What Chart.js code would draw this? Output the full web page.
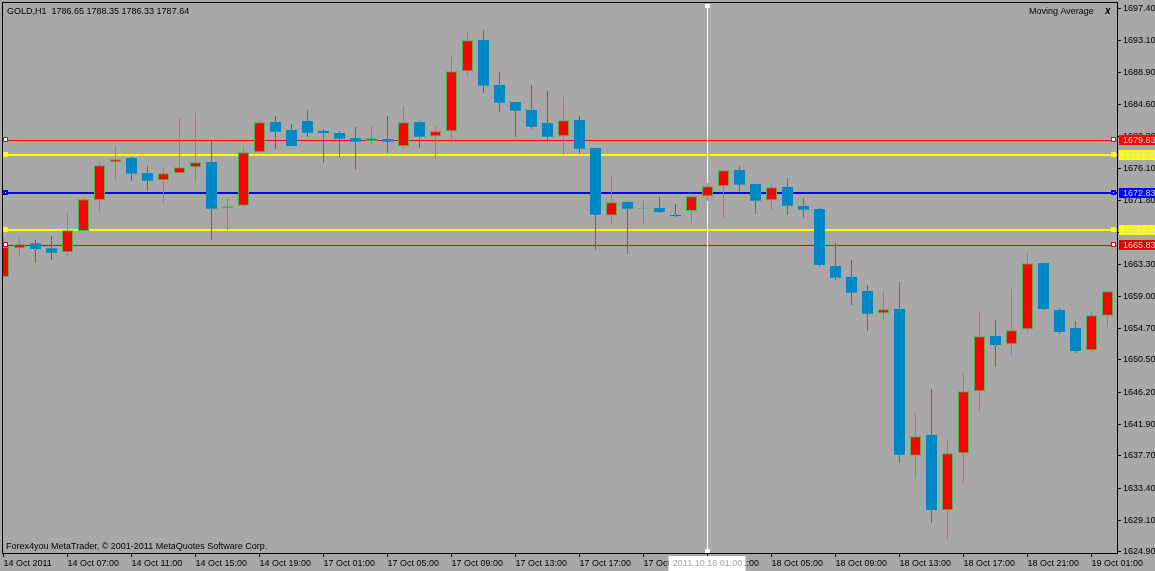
<!DOCTYPE html>
<html><head><meta charset="utf-8">
<script src="https://cdn.jsdelivr.net/npm/chart.js@4/dist/chart.umd.min.js"></script>
<style>html,body{margin:0;padding:0;background:#a8a8a8;overflow:hidden}#wrap{width:1155px;height:571px;position:relative}canvas{display:block}</style>
</head><body><div id="wrap"><canvas id="c" width="1155" height="571"></canvas></div>
<script>
const symbolTitle = 'GOLD,H1  1786.65 1788.35 1786.33 1787.64';
const indicatorName = 'Moving Average';
const copyright = 'Forex4you MetaTrader, \u00a9 2001-2011 MetaQuotes Software Corp.';

const tickLabels = ['14 Oct 2011','14 Oct 07:00','14 Oct 11:00','14 Oct 15:00','14 Oct 19:00','17 Oct 01:00','17 Oct 05:00','17 Oct 09:00','17 Oct 13:00','17 Oct 17:00','17 Oct 21:00','18 Oct 01:00','18 Oct 05:00','18 Oct 09:00','18 Oct 13:00','18 Oct 17:00','18 Oct 21:00','19 Oct 01:00'];
const barsPerTick = 4;

const opens = [1661.59,1665.42,1666.08,1665.42,1664.88,1667.73,1671.86,1676.90,1677.47,1675.47,
1674.49,1675.43,1676.23,1676.94,1670.76,1671.10,1678.23,1682.28,1681.21,1682.41,
1681.08,1680.81,1680.14,1679.74,1680.01,1679.03,1682.28,1680.37,1681.04,1689.05,
1693.23,1687.22,1684.95,1683.88,1682.15,1680.37,1682.55,1678.81,1669.80,1671.60,
1670.70,1670.80,1669.86,1670.40,1672.36,1673.69,1675.87,1674.00,1671.83,1673.60,
1671.06,1670.66,1663.05,1661.59,1659.71,1656.74,1657.31,1637.72,1640.49,1630.44,
1638.05,1646.32,1653.71,1652.60,1654.60,1663.45,1657.18,1654.77,1651.80,1656.42];
const closes = [1665.59,1665.95,1665.32,1664.83,1667.82,1671.96,1676.50,1677.30,1675.38,1674.44,
1675.43,1676.23,1676.90,1670.70,1671.02,1678.23,1682.24,1680.98,1679.07,1680.85,
1680.81,1680.05,1679.65,1680.10,1679.65,1682.24,1680.32,1681.04,1689.05,1693.19,
1687.13,1684.86,1683.79,1681.65,1680.32,1682.51,1678.71,1669.90,1671.56,1670.70,
1670.70,1670.26,1669.73,1672.36,1673.69,1675.83,1673.91,1671.77,1673.56,1671.10,
1670.57,1663.19,1661.49,1659.49,1656.68,1657.27,1637.86,1640.31,1630.48,1638.05,
1646.32,1653.67,1652.51,1654.47,1663.41,1657.31,1654.24,1651.70,1656.47,1659.67];
const highs = [1666.79,1666.97,1666.52,1667.06,1670.26,1672.13,1676.94,1679.07,1677.65,1676.44,
1676.14,1682.81,1683.48,1679.88,1672.13,1678.98,1682.68,1683.08,1682.01,1683.88,
1681.34,1681.08,1681.61,1681.74,1683.08,1684.41,1682.41,1681.74,1691.22,1694.43,
1694.56,1688.95,1684.95,1687.22,1686.42,1685.62,1683.08,1678.81,1675.20,1671.60,
1671.73,1672.27,1671.33,1672.36,1674.09,1675.83,1676.40,1674.00,1674.13,1674.80,
1672.13,1670.80,1666.12,1663.85,1660.52,1659.71,1660.92,1643.43,1646.63,1639.82,
1648.77,1656.91,1655.84,1659.98,1664.92,1663.45,1657.44,1655.71,1657.05,1659.67];
const lows = [1661.45,1664.30,1663.49,1663.85,1664.30,1667.66,1670.17,1674.44,1674.44,1673.11,
1671.37,1675.43,1674.31,1666.52,1667.86,1670.86,1678.14,1678.67,1679.07,1680.32,
1676.84,1677.51,1675.91,1679.30,1678.18,1678.71,1678.85,1677.30,1679.51,1688.33,
1686.19,1683.61,1680.32,1681.38,1679.65,1677.91,1678.05,1665.19,1668.66,1664.66,
1668.53,1670.13,1669.60,1668.84,1671.77,1669.46,1673.03,1670.00,1670.53,1669.86,
1669.46,1662.96,1661.18,1657.85,1654.41,1655.75,1636.79,1634.79,1628.78,1626.47,
1634.08,1643.56,1649.61,1651.08,1654.15,1657.18,1653.97,1651.44,1651.48,1654.95];

const priceTicks = [1697.40,1693.10,1688.90,1684.60,1680.30,1676.10,1671.80,1667.50,1663.30,1659.00,1654.70,1650.50,1646.20,1641.90,1637.70,1633.40,1629.10,1624.90];
const levelValues = [1679.83,1677.83,1672.83,1667.83,1665.83];
const crosshairIndex = 44;
const crosshairLabel = '2011.10.18 01:00';

// styles
const BG = '#a8a8a8', RED = '#ff0000', BLUE = '#0088c4', GREEN = '#4cb24c';
const levelColors = ['#ff0000','#ffff00','#0000ff','#ffff00','#e00000'];
const levelWidths = [1,2,2,2,1];
const FONT = '9px "Liberation Sans", Arial, sans-serif';

const idx = opens.map((_, i) => i);
const isUp = opens.map((o, i) => closes[i] >= o);

const mt4 = {
  id: 'mt4',
  beforeDraw(chart) {
    const c = chart.ctx; c.save(); c.fillStyle = BG; c.fillRect(0, 0, chart.width, chart.height); c.restore();
  },
  beforeDatasetsDraw(chart) {
    const { ctx, chartArea: a, scales: { x, y } } = chart;
    ctx.save();
    levelValues.forEach((v, k) => {
      const py = y.getPixelForValue(v);
      const w = levelWidths[k];
      const top = w % 2 ? Math.floor(py) : Math.round(py) - w / 2;
      ctx.fillStyle = levelColors[k];
      ctx.fillRect(a.left + 1, top, a.right - a.left - 1, w);
    });
    const cx = Math.floor(x.getPixelForValue(crosshairIndex));
    ctx.fillStyle = '#ffffff';
    ctx.fillRect(cx, a.top + 2, 1, a.bottom - a.top - 2);
    ctx.fillRect(cx - 2, a.top + 2, 5, 4);
    ctx.fillRect(cx - 2, a.bottom - 4, 5, 4);
    ctx.restore();
  },
  afterDatasetsDraw(chart) {
    const { ctx, chartArea: a, scales: { y } } = chart;
    ctx.save();
    levelValues.forEach((v, k) => {
      const py = Math.round(y.getPixelForValue(v));
      const bw = levelWidths[k];
      [a.left + 1, a.right - 6].forEach(mx => {
        ctx.fillStyle = levelColors[k];
        ctx.fillRect(mx, py - 3, 5, 5);
        ctx.fillStyle = '#ffffff';
        ctx.fillRect(mx + bw, py - 3 + bw, 5 - 2 * bw, 5 - 2 * bw);
      });
    });
    ctx.restore();
  },
  afterDraw(chart) {
    const { ctx, chartArea: a, scales: { x, y } } = chart;
    ctx.save();
    ctx.fillStyle = '#000';
    ctx.fillRect(a.left, a.top, a.right - a.left, 1);
    ctx.fillRect(a.left, a.top, 1, a.bottom - a.top);
    ctx.font = FONT;
    ctx.textBaseline = 'middle';
    levelValues.forEach((v, k) => {
      const py = Math.round(y.getPixelForValue(v));
      ctx.fillStyle = levelColors[k];
      ctx.fillRect(a.right + 2, py - 5, chart.width - a.right - 2, 10);
      ctx.fillStyle = '#d4d4d4';
      ctx.textAlign = 'left';
      ctx.fillText(v.toFixed(2), a.right + 6, py + 0.5);
    });
    const cx = Math.floor(x.getPixelForValue(crosshairIndex)) + 0.5;
    ctx.fillStyle = '#ffffff';
    ctx.fillRect(cx - 39, a.bottom + 3, 77, 15);
    ctx.fillStyle = BG;
    ctx.textAlign = 'center';
    ctx.fillText(crosshairLabel, cx, a.bottom + 10.5);
    ctx.fillStyle = '#000';
    ctx.textBaseline = 'alphabetic';
    ctx.textAlign = 'left';
    ctx.fillText(symbolTitle, a.left + 5, a.top + 12);
    ctx.fillText(copyright, a.left + 4, a.bottom - 4);
    ctx.fillText(indicatorName, 1029, a.top + 12);
    ctx.font = 'bold italic 10px "Liberation Sans", Arial, sans-serif';
    ctx.fillText('x', 1105, a.top + 12);
    ctx.restore();
  }
};

new Chart(document.getElementById('c'), {
  type: 'bar',
  data: {
    datasets: [
      {
        label: 'body',
        data: idx.map(i => ({ x: i, y: [opens[i], closes[i]] })),
        backgroundColor: isUp.map(u => u ? RED : BLUE),
        borderColor: isUp.map(u => u ? GREEN : BLUE),
        borderWidth: isUp.map(u => u ? 1 : 0),
        borderSkipped: false,
        inflateAmount: 0,
        barThickness: 11, maxBarThickness: 11,
        minBarLength: 1,
        grouped: false,
        order: 0
      },
      {
        label: 'wick',
        data: idx.map(i => ({ x: i, y: [lows[i], highs[i]] })),
        backgroundColor: isUp.map(u => u ? GREEN : BLUE),
        borderWidth: 0,
        inflateAmount: 0,
        barThickness: 1, maxBarThickness: 1,
        grouped: false,
        order: 1
      }
    ]
  },
  options: {
    responsive: false,
    animation: false,
    devicePixelRatio: 1,
    layout: { padding: { left: 2, top: 2, right: 0, bottom: 0 } },
    plugins: { legend: { display: false }, tooltip: { enabled: false } },
    scales: {
      x: {
        type: 'linear',
        min: -0.09375, max: 69.59375,
        offset: false,
        grid: { display: true, drawOnChartArea: false, drawTicks: true, tickLength: 4, color: '#000', offset: false },
        border: { display: true, color: '#000' },
        ticks: {
          autoSkip: false, maxRotation: 0, minRotation: 0, align: 'start', padding: 1,
          color: '#000', font: { family: '"Liberation Sans", Arial, sans-serif', size: 9 },
          callback: (v, i) => tickLabels[i]
        },
        afterBuildTicks: s => { s.ticks = tickLabels.map((_, k) => ({ value: k * barsPerTick })); },
        afterFit: s => { s.height = 18; s.paddingLeft = 0; s.paddingRight = 0; }
      },
      y: {
        position: 'right',
        min: 1624.73, max: 1698.30,
        grid: { display: true, drawOnChartArea: false, drawTicks: true, tickLength: 4, color: '#000' },
        border: { display: true, color: '#000' },
        ticks: {
          autoSkip: false, padding: 2, color: '#000',
          font: { family: '"Liberation Sans", Arial, sans-serif', size: 9 },
          callback: v => Number(v).toFixed(2)
        },
        afterBuildTicks: s => { s.ticks = priceTicks.map(v => ({ value: v })); },
        afterFit: s => { s.width = 38; s.paddingTop = 0; s.paddingBottom = 0; }
      }
    }
  },
  plugins: [mt4]
});
</script>
</body></html>
